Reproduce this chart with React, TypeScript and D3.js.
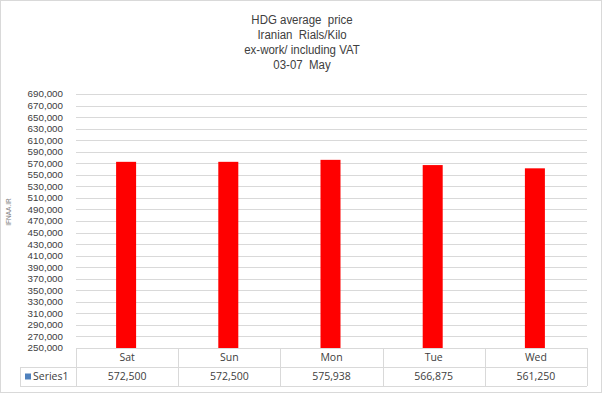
import { useMemo } from "react";
import { scaleBand, scaleLinear, range, format } from "d3";

const days = ["Sat", "Sun", "Mon", "Tue", "Wed"];
const prices = [572500, 572500, 575938, 566875, 561250];
const titleLines = ["HDG average  price", "Iranian  Rials/Kilo", "ex-work/ including VAT", "03-07  May"];
const seriesName = "Series1";
const yMin = 250000;
const yMax = 690000;
const yStep = 20000;

const width = 602;
const height = 393;
const left = 76;
const right = 587;
const top = 94;
const bottom = 348;
const rowH = 19;

const font = "'Liberation Sans', Arial, sans-serif";
const labelFont = "'Open Sans', 'DejaVu Sans', sans-serif";
const grid = "#d9d9d9";
const text = "#404040";

const fmt = format(",");

const App = () => {
  const x = useMemo(() => scaleBand().domain(days).range([left, right]), []);
  const y = useMemo(() => scaleLinear().domain([yMin, yMax]).range([bottom, top]), []);
  const ticks = range(yMin, yMax + 1, yStep);
  const barW = 20;

  return (
    <svg width={width} height={height} style={{ position: "absolute", left: 0, top: 0 }}>
      <rect x={0.5} y={0.5} width={width - 1} height={height - 1} fill="#fff" stroke={grid} />
      {/* title, squeezed to look like a narrow face */}
      <g
        transform={`translate(${width / 2 + 1},0) scale(0.85,1)`}
        fontFamily={font}
        fontSize={13.5}
        fill={text}
        textAnchor="middle"
      >
        {titleLines.map((t, i) => (
          <text key={i} x={0} y={24 + i * 15} xmlSpace="preserve">
            {t}
          </text>
        ))}
      </g>
      {/* gridlines + y labels */}
      {ticks.map((t) => (
        <g key={t}>
          {t > yMin && (
            <line x1={left} x2={right} y1={Math.round(y(t)) + 0.5} y2={Math.round(y(t)) + 0.5} stroke={grid} />
          )}
          <text
            x={63}
            y={y(t)}
            dy="0.35em"
            textAnchor="end"
            fontFamily={font}
            fontSize={9.8}
            fill={text}
          >
            {fmt(t)}
          </text>
        </g>
      ))}
      {/* bars */}
      {days.map((d, i) => (
        <rect
          key={d}
          x={x(d)! + x.bandwidth() / 2 - barW / 2 - 1}
          y={y(prices[i])}
          width={barW}
          height={bottom - y(prices[i])}
          fill="#ff0000"
        />
      ))}
      {/* data table */}
      <g stroke={grid} fill="none">
        <line x1={left} x2={right} y1={bottom + 0.5} y2={bottom + 0.5} />
        <line x1={20} x2={right} y1={bottom + rowH + 0.5} y2={bottom + rowH + 0.5} />
        <line x1={20} x2={right} y1={bottom + 2 * rowH + 0.5} y2={bottom + 2 * rowH + 0.5} />
        <line x1={20.5} x2={20.5} y1={bottom + rowH} y2={bottom + 2 * rowH} />
        {days.map((d) => (
          <line key={d} x1={Math.round(x(d)!) + 0.5} x2={Math.round(x(d)!) + 0.5} y1={bottom} y2={bottom + 2 * rowH} />
        ))}
        <line x1={right + 0.5} x2={right + 0.5} y1={bottom} y2={bottom + 2 * rowH} />
      </g>
      <g fontFamily={labelFont} fontSize={10.5} fill={text} textAnchor="middle">
        {days.map((d, i) => (
          <g key={d}>
            <text x={x(d)! + x.bandwidth() / 2} y={bottom + rowH / 2} dy="0.35em">
              {d}
            </text>
            <text x={x(d)! + x.bandwidth() / 2} y={bottom + rowH * 1.5} dy="0.35em">
              {fmt(prices[i])}
            </text>
          </g>
        ))}
      </g>
      <rect x={25} y={bottom + rowH * 1.5 - 3} width={6} height={6} fill="#4f81bd" />
      <text x={33} y={bottom + rowH * 1.5} dy="0.35em" fontFamily={labelFont} fontSize={10.5} fill={text}>
        {seriesName}
      </text>
      {/* watermark */}
      <text
        transform="translate(11,212) rotate(-90)"
        textAnchor="middle"
        fontFamily={font}
        fontSize={6.5}
        fill="#7f7f7f"
      >
        IFNAA.IR
      </text>
    </svg>
  );
};

export default App;
